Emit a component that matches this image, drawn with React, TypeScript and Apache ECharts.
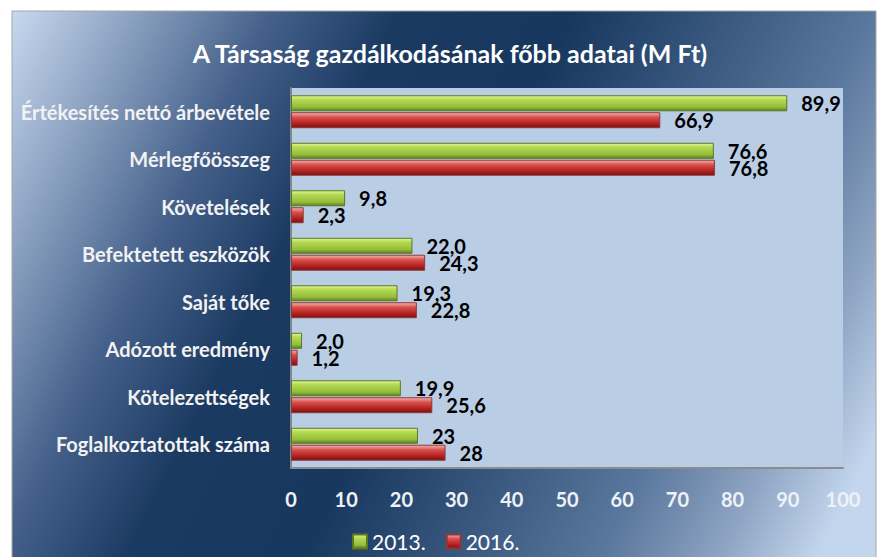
import React, { useEffect, useRef } from "react";
import * as echarts from "echarts";

const categories = [
  "Értékesítés nettó árbevétele",
  "Mérlegfőösszeg",
  "Követelések",
  "Befektetett eszközök",
  "Saját tőke",
  "Adózott eredmény",
  "Kötelezettségek",
  "Foglalkoztatottak száma",
];
const values2013 = [89.9, 76.6, 9.8, 22.0, 19.3, 2.0, 19.9, 23];
const values2016 = [66.9, 76.8, 2.3, 24.3, 22.8, 1.2, 25.6, 28];
const labels2013 = ["89,9", "76,6", "9,8", "22,0", "19,3", "2,0", "19,9", "23"];
const labels2016 = ["66,9", "76,8", "2,3", "24,3", "22,8", "1,2", "25,6", "28"];
const seriesNames = ["2013.", "2016."];
const titleText = "A Társaság gazdálkodásának főbb adatai (M Ft)";

const FONT = "Lato, 'Open Sans', sans-serif";

export default function App() {
  const ref = useRef<HTMLDivElement>(null);
  useEffect(() => {
    if (!ref.current) return;
    const chart = echarts.init(ref.current, null, { renderer: "svg" });
    const greenGrad = new echarts.graphic.LinearGradient(0, 0, 0, 1, [
      { offset: 0, color: "#e2f5a0" },
      { offset: 0.25, color: "#b6da52" },
      { offset: 0.75, color: "#94bd3c" },
      { offset: 1, color: "#5f7f1f" },
    ]);
    const redGrad = new echarts.graphic.LinearGradient(0, 0, 0, 1, [
      { offset: 0, color: "#f6b3b0" },
      { offset: 0.3, color: "#d8514c" },
      { offset: 0.7, color: "#b42222" },
      { offset: 1, color: "#7c1010" },
    ]);
    const bg = new echarts.graphic.LinearGradient(
      12, 11, 876, 441,
      [
        { offset: 0, color: "#c6d9f0" },
        { offset: 0.1, color: "#93a8c6" },
        { offset: 0.24, color: "#45618b" },
        { offset: 0.36, color: "#1b3a62" },
        { offset: 0.52, color: "#17375e" },
        { offset: 0.8, color: "#5a779d" },
        { offset: 0.91, color: "#8fa5c3" },
        { offset: 1.0, color: "#c3d6ee" },
      ],
      true
    );
    chart.setOption({
      animation: false,
      graphic: [
        {
          type: "rect",
          z: -10,
          silent: true,
          shape: { x: 12, y: 11, width: 864, height: 560 },
          style: { fill: bg, stroke: "#a6a6a6", lineWidth: 1 },
        },
      ],
      title: {
        text: titleText,
        left: 445,
        top: 35,
        textAlign: "center",
        textStyle: { color: "#ffffff", fontFamily: FONT, fontWeight: "bold", fontSize: 25 },
      },
      legend: {
        data: seriesNames,
        left: 347,
        top: 526,
        icon: "rect",
        itemWidth: 14,
        itemHeight: 14,
        itemGap: 20,
        textStyle: { color: "#ffffff", fontFamily: FONT, fontSize: 21 },
      },
      grid: {
        left: 291,
        right: 37,
        top: 88,
        bottom: 89,
        show: true,
        backgroundColor: "#b9cde5",
        borderWidth: 0,
      },
      xAxis: {
        type: "value",
        min: 0,
        max: 100,
        interval: 10,
        splitLine: { show: false },
        axisTick: { show: false },
        axisLine: { show: true, lineStyle: { color: "#8c8c8c", width: 2 } },
        axisLabel: {
          color: "#eef2f8",
          fontFamily: FONT,
          fontWeight: "bold",
          fontSize: 20,
          margin: 21,
        },
      },
      yAxis: {
        type: "category",
        data: categories,
        inverse: true,
        axisTick: { show: false },
        axisLine: { show: true, lineStyle: { color: "#7f8790", width: 2 } },
        axisLabel: {
          color: "#f2f2f2",
          fontFamily: FONT,
          fontWeight: "bold",
          fontSize: 20,
          margin: 21,
        },
      },
      series: [
        {
          name: seriesNames[0],
          type: "bar",
          data: values2013,
          barWidth: 16,
          barGap: "6%",
          itemStyle: { color: greenGrad, borderColor: "#5a7a20", borderWidth: 1 },
          label: {
            show: true,
            position: "right",
            distance: 14,
            color: "#000000",
            fontFamily: FONT,
            fontWeight: "bold",
            fontSize: 20,
            formatter: (p: any) => labels2013[p.dataIndex],
          },
        },
        {
          name: seriesNames[1],
          type: "bar",
          data: values2016,
          barWidth: 16,
          barGap: "6%",
          itemStyle: { color: redGrad, borderColor: "#8a3a3a", borderWidth: 1 },
          label: {
            show: true,
            position: "right",
            distance: 14,
            color: "#000000",
            fontFamily: FONT,
            fontWeight: "bold",
            fontSize: 20,
            formatter: (p: any) => labels2016[p.dataIndex],
          },
        },
      ],
    });
    return () => chart.dispose();
  }, []);
  return <div ref={ref} style={{ width: 880, height: 557, position: "absolute", left: 0, top: 0 }} />;
}
